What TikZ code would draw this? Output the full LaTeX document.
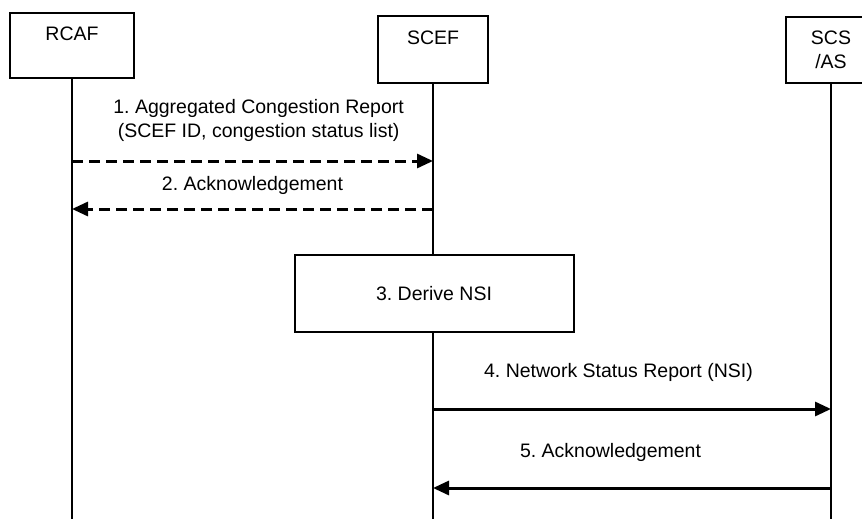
\documentclass[tikz,border=0pt]{standalone}
\usepackage{fontspec}
\setmainfont{Liberation Sans}
\usetikzlibrary{arrows.meta}
\frenchspacing

\begin{document}
\begin{tikzpicture}[x=1pt,y=-1pt,
		font=\fontsize{19.5}{24}\selectfont,
		entity/.style={draw,line width=2pt,fill=white,align=center,inner sep=0pt},
		lifeline/.style={line width=2pt},
		msg/.style={line width=3pt,-{Triangle[length=16pt,width=14pt]}},
		dashmsg/.style={msg,dash pattern=on 11pt off 6pt},
		msglabel/.style={align=center,inner sep=0pt}]
		\useasboundingbox (0,0) rectangle (862,519);
		
		% participants
		\node[entity,minimum width=124pt,minimum height=65pt] (rcaf) at (72,45.5) {RCAF\\ \mbox{}};
		\node[entity,minimum width=110pt,minimum height=67pt] (scef) at (433,49.5) {SCEF\\ \mbox{}};
		\node[entity,minimum width=90pt,minimum height=66pt] (scs) at (831,50) {SCS\\/AS};
		
		% lifelines
		\draw[lifeline] (rcaf.south) -- (rcaf |- 0,519);
		\draw[lifeline] (scef.south) -- (scef |- 0,519);
		\draw[lifeline] (scs.south) -- (scs |- 0,519);
		
		% messages
		\draw[dashmsg] (rcaf |- 0,161) -- node[msglabel,pos=0.517,yshift=41pt] (m1) {1. Aggregated Congestion Report\\(SCEF ID, congestion status list)} (scef |- 0,161);
		\draw[dashmsg] (scef |- 0,209) -- node[msglabel,pos=0.5,yshift=24pt] (m2) {2. Acknowledgement} (rcaf |- 0,209);
		
		% local step
		\node[entity,minimum width=279pt,minimum height=77pt] (derive) at (434,293.5) {3. Derive NSI};
		
		\draw[msg] (scef |- 0,409) -- node[msglabel,pos=0.466,yshift=37pt] (m4) {4. Network Status Report (NSI)} (scs |- 0,409);
		\draw[msg] (scs |- 0,488) -- node[msglabel,pos=0.554,yshift=36pt] (m5) {5. Acknowledgement} (scef |- 0,488);
		
	\end{tikzpicture}
\end{document}
